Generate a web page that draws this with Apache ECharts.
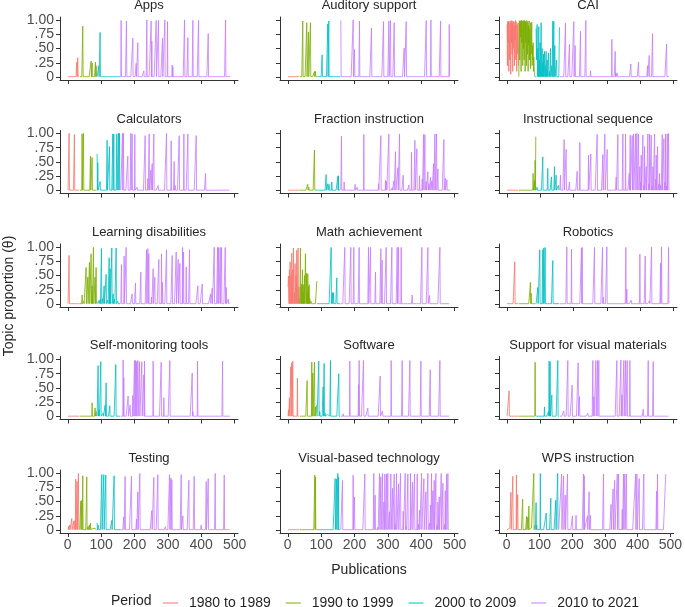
<!DOCTYPE html>
<html><head><meta charset="utf-8">
<script src="https://cdn.jsdelivr.net/npm/echarts@6/dist/echarts.min.js"></script>
<style>html,body{margin:0;padding:0;background:#fff}#c{width:685px;height:607px}</style>
</head><body><div id="c"></div>
<script>
const panelTitles = ['Apps','Auditory support','CAI','Calculators','Fraction instruction','Instructional sequence','Learning disabilities','Math achievement','Robotics','Self-monitoring tools','Software','Support for visual materials','Testing','Visual-based technology','WPS instruction'];
const periods = ['1980 to 1989','1990 to 1999','2000 to 2009','2010 to 2021'];
const periodStart = [1,36,88,159];
const periodEnd = [35,87,158,486];
const xTicks = [0,100,200,300,400,500];
const yTicks = [0,0.25,0.5,0.75,1];
const yTickLabels = ['0','.25','.50','.75','1.00'];
const baseline = 0.008;

// spikes: [publication index, topic proportion]; unlisted publications sit at the baseline
const apps = [[27,0.26],[30,0.34],[45,0.89],[70,0.28],[73,0.25],[83,0.26],[85,0.2],[93,0.2],[97,0.78],[160,0.99],[176,0.98],[195,0.68],[205,0.24],[210,0.6],[228,0.11],[237,1.0],[250,0.98],[252,0.63],[265,0.99],[272,0.99],[284,0.68],[291,1.0],[299,0.97],[313,0.21],[315,0.18],[350,1.0],[360,0.69],[375,0.99],[392,0.99],[421,0.76],[473,1.0]];
const auditory = [[33,0.02],[45,0.98],[57,0.95],[62,0.79],[68,0.95],[80,0.1],[83,0.1],[103,0.39],[120,0.93],[123,0.98],[159,0.99],[171,0.04],[196,1.0],[200,0.48],[215,0.98],[251,0.86],[287,0.97],[303,0.98],[308,0.99],[319,0.95],[349,0.51],[355,0.97],[415,0.99],[429,1.0],[458,0.98],[484,0.92]];
const cai = [[1,0.92],[2,0.2],[3,0.97],[4,0.6],[5,0.98],[6,0.1],[7,0.95],[8,0.7],[9,0.3],[10,0.98],[11,0.85],[12,0.05],[13,0.97],[14,0.6],[15,0.99],[16,0.4],[17,0.95],[18,0.1],[19,0.98],[20,0.75],[21,0.5],[22,0.96],[23,0.2],[24,0.9],[25,0.65],[26,0.99],[27,0.3],[28,0.97],[29,0.55],[30,0.1],[31,0.92],[32,0.7],[33,0.4],[34,0.95],[35,0.2],
[37,0.4],[38,0.98],[39,0.3],[40,0.99],[41,0.7],[42,0.97],[43,0.1],[44,0.99],[45,0.6],[46,0.98],[47,0.85],[48,0.2],[49,0.99],[50,0.5],[51,0.97],[52,0.3],[53,0.99],[54,0.75],[55,0.1],[56,0.98],[57,0.6],[58,0.95],[59,0.2],[60,0.99],[61,0.8],[62,0.4],[63,0.97],[64,0.1],[65,0.9],[66,0.55],[67,0.98],[68,0.3],[69,0.85],[70,0.6],[71,0.15],[72,0.95],[73,0.4],[74,0.7],[75,0.96],[76,0.2],[77,0.55],[78,0.3],[79,0.6],[80,0.1],[81,0.35],[82,0.2],[83,0.05],
[88,0.85],[89,0.3],[90,0.7],[91,0.92],[93,0.5],[94,0.2],[96,0.88],[98,0.3],[100,0.6],[102,0.35],[103,0.95],[105,0.15],[106,0.5],[108,0.25],[110,0.4],[113,0.45],[115,0.2],[118,0.45],[121,0.3],[125,0.42],[128,0.1],[131,0.5],[135,0.2],[138,0.98],[141,0.97],[144,0.55],[149,0.3],[158,0.87],
[176,0.94],[188,0.57],[201,0.97],[205,0.55],[221,0.8],[237,0.99],[251,0.11],[271,0.02],[315,0.66],[325,0.45],[327,0.08],[331,0.07],[372,0.23],[395,0.26],[422,0.2],[427,0.38],[437,0.76],[479,0.58]];
const calculators = [[4,1.0],[20,0.98],[43,0.99],[47,1.0],[68,0.6],[73,0.58],[88,0.64],[90,0.49],[97,0.16],[118,0.88],[125,0.77],[135,0.99],[138,0.99],[147,0.99],[152,1.0],[155,1.0],[164,1.0],[167,1.0],[180,0.6],[189,1.0],[193,0.99],[201,0.98],[208,0.06],[232,0.96],[240,0.21],[244,0.99],[249,0.36],[253,0.47],[258,0.99],[271,0.09],[296,1.0],[310,0.87],[319,0.51],[322,0.09],[334,0.96],[348,0.99],[360,0.99],[385,0.96],[413,0.3],[435,0.03],[447,0.02]];
const fraction = [[2,0.02],[25,0.03],[60,0.11],[63,0.06],[80,0.71],[115,0.28],[120,0.12],[124,0.11],[132,0.15],[150,0.25],[152,0.26],[161,0.95],[169,0.15],[202,0.11],[208,0.06],[228,0.98],[272,0.12],[279,0.96],[293,0.18],[296,0.16],[303,0.99],[313,0.05],[318,0.17],[323,0.68],[330,0.4],[335,0.99],[346,0.27],[363,0.1],[371,0.67],[381,0.88],[387,0.73],[395,0.26],[403,0.2],[407,0.98],[411,0.98],[415,0.16],[420,0.33],[423,0.12],[428,0.23],[432,0.17],[437,0.47],[441,0.99],[446,0.99],[450,0.38],[468,0.89],[472,0.22],[477,0.19],[482,0.03]];
const instructional = [[79,0.3],[83,0.18],[85,0.53],[87,0.94],[91,0.06],[108,0.59],[123,0.39],[134,0.24],[143,0.42],[148,0.27],[155,0.09],[161,0.27],[172,0.89],[178,0.72],[188,0.15],[211,0.34],[219,0.84],[245,0.62],[252,0.64],[271,0.98],[288,0.63],[294,0.99],[301,0.72],[328,0.24],[333,0.98],[348,0.99],[356,0.99],[367,0.3],[370,0.97],[376,0.96],[380,0.99],[386,0.99],[390,1.0],[395,0.99],[399,0.42],[401,0.15],[403,0.62],[408,0.97],[411,0.1],[413,0.77],[418,0.42],[423,0.99],[426,0.12],[428,0.99],[433,0.97],[436,0.08],[438,0.42],[443,0.99],[446,0.2],[448,0.62],[452,0.77],[456,0.12],[458,0.3],[462,0.1],[466,0.98],[471,0.91],[474,0.15],[476,0.99],[479,0.08],[481,0.99],[485,1.0]];
const learning = [[4,0.85],[43,0.16],[48,0.05],[55,0.64],[60,0.47],[65,0.73],[70,0.88],[73,0.32],[77,0.99],[82,0.47],[85,0.64],[93,0.06],[97,0.08],[101,0.97],[105,0.1],[109,0.32],[115,0.52],[120,0.07],[124,0.81],[127,0.62],[132,0.98],[136,0.18],[140,0.09],[145,0.98],[150,0.05],[161,0.69],[169,0.84],[175,0.99],[193,0.18],[203,0.37],[219,0.56],[236,0.95],[240,0.97],[243,0.88],[251,0.12],[256,0.62],[261,0.47],[273,0.78],[281,0.88],[284,0.38],[296,0.95],[313,0.85],[325,0.91],[331,0.78],[336,0.71],[344,0.99],[347,0.91],[355,0.65],[365,0.95],[390,0.32],[403,0.35],[428,0.18],[433,0.28],[439,0.99],[449,0.99],[452,0.99],[457,0.99],[461,0.99],[472,0.99],[475,0.29],[481,0.09]];
const math = [[1,0.3],[2,0.49],[3,0.1],[5,0.6],[7,0.74],[8,0.2],[10,0.5],[12,0.89],[13,0.3],[15,0.6],[17,0.98],[18,0.4],[20,0.2],[22,0.71],[23,0.3],[25,0.5],[27,0.94],[28,0.2],[30,0.6],[31,0.98],[33,0.3],[35,0.1],
[38,0.98],[40,0.3],[42,0.35],[44,0.6],[46,0.2],[48,0.34],[50,0.5],[53,0.88],[54,0.3],[56,0.54],[58,0.2],[60,0.53],[62,0.3],[64,0.34],[66,0.1],[70,0.05],[87,0.4],
[130,0.99],[134,0.2],[137,0.2],[147,0.46],
[171,0.99],[189,0.99],[198,0.99],[214,0.99],[224,0.03],[242,0.99],[248,0.99],[263,0.56],[279,0.97],[283,0.77],[295,0.99],[312,0.99],[328,0.99],[332,0.99],[340,0.99],[373,0.16],[402,0.99],[420,0.99],[425,0.15],[456,0.99]];
const robotics = [[24,0.74],[71,0.38],[73,0.19],[93,0.29],[99,0.95],[108,0.95],[111,0.98],[115,0.99],[138,0.76],[180,1.0],[194,0.96],[224,0.98],[226,0.99],[242,0.02],[263,0.99],[287,0.99],[289,0.12],[300,1.0],[357,0.99],[360,0.26],[373,0.07],[399,0.87],[415,0.84],[428,0.06],[434,1.0],[461,0.71],[464,1.0],[485,0.99]];
const selfMonitoring = [[73,0.24],[82,0.15],[85,0.09],[91,0.89],[94,0.12],[99,0.96],[106,0.06],[112,0.2],[115,0.59],[126,0.19],[144,0.91],[166,0.99],[168,0.68],[181,0.36],[187,0.2],[195,0.37],[200,0.98],[203,0.98],[206,0.96],[210,0.98],[215,0.96],[222,0.96],[228,0.73],[230,0.97],[256,0.97],[280,0.95],[288,0.33],[306,0.98],[373,0.76],[375,0.09],[389,0.97],[464,0.97]];
const software = [[2,0.12],[5,0.33],[9,0.87],[12,0.94],[15,0.97],[29,0.67],[58,0.63],[72,0.95],[75,0.76],[80,0.95],[83,0.17],[87,0.2],[93,0.97],[96,0.09],[106,0.52],[109,0.93],[112,0.06],[119,0.04],[128,0.98],[153,0.75],[166,0.05],[186,0.97],[212,0.56],[214,0.98],[227,0.98],[240,0.15],[277,0.71],[284,0.1],[310,0.98],[343,0.98],[366,0.98],[399,0.97],[427,0.82],[456,0.98]];
const visualMaterials = [[7,0.45],[85,0.95],[113,0.17],[125,0.09],[127,0.97],[130,0.96],[135,0.38],[153,0.98],[171,0.1],[183,0.98],[196,0.55],[214,0.94],[218,0.35],[233,0.03],[243,0.06],[258,0.98],[261,0.35],[267,0.98],[272,0.98],[276,0.98],[330,0.98],[342,0.99],[345,0.38],[351,0.98],[356,0.98],[361,0.98],[369,0.98],[409,0.13],[424,0.98],[439,0.96]];
const testing = [[3,0.07],[6,0.09],[12,0.2],[18,0.16],[22,0.17],[24,0.89],[28,0.85],[32,0.99],[39,0.51],[42,0.52],[45,0.95],[50,0.04],[55,0.04],[57,0.93],[61,0.06],[65,0.09],[68,0.12],[75,0.03],[82,0.03],[88,0.13],[91,0.09],[102,0.97],[108,0.97],[114,0.96],[132,0.17],[139,0.95],[168,0.23],[172,0.94],[191,0.94],[206,0.19],[210,0.67],[216,0.99],[252,0.34],[258,0.92],[270,0.97],[293,0.06],[305,0.97],[309,0.91],[312,0.88],[340,0.97],[345,0.25],[363,0.87],[379,0.94],[400,0.09],[415,0.85],[421,0.9],[442,0.99],[469,0.96]];
const visualBased = [[81,0.96],[83,0.93],[142,0.9],[146,0.89],[150,0.99],[152,0.93],[164,0.87],[196,0.96],[200,0.58],[231,0.98],[252,0.04],[258,0.99],[262,0.61],[270,0.05],[275,0.99],[279,0.93],[284,0.99],[288,0.49],[290,0.08],[291,0.98],[296,0.98],[300,0.99],[305,0.32],[309,0.98],[314,0.73],[319,0.98],[322,0.1],[326,0.99],[332,0.81],[338,0.99],[346,0.33],[352,0.99],[355,0.06],[360,0.98],[368,0.99],[374,0.84],[380,0.98],[388,0.98],[392,0.1],[395,0.35],[401,0.99],[408,0.9],[414,0.67],[420,0.99],[425,0.12],[428,0.44],[431,0.99],[435,0.69],[439,0.87],[444,0.99],[448,0.08],[450,0.49],[454,0.58],[460,0.99],[465,0.82],[470,0.1],[472,0.69],[476,0.98],[480,0.99]];
const wps = [[3,0.03],[10,0.04],[13,0.66],[19,0.94],[25,0.03],[30,0.96],[34,0.62],[49,0.54],[54,0.04],[61,0.24],[65,0.23],[68,0.42],[76,0.04],[83,0.99],[87,0.09],[90,0.48],[92,0.09],[103,0.99],[121,0.3],[135,0.56],[150,0.52],[156,0.99],[168,0.98],[174,0.95],[179,0.61],[186,0.98],[201,0.25],[212,0.26],[235,0.98],[237,0.95],[247,0.25],[252,0.67],[256,0.26],[296,0.98],[319,0.45],[325,0.72],[330,0.87],[338,0.98],[342,0.98],[353,0.36],[357,0.98],[361,0.98],[366,0.98],[394,0.98],[398,0.98],[405,0.9],[419,0.98],[458,0.68],[461,0.98],[475,0.04],[486,0.98]];

const panelData = [apps, auditory, cai, calculators, fraction, instructional, learning, math, robotics, selfMonitoring, software, visualMaterials, testing, visualBased, wps];

const colors = ['#F8766D','#7CAE00','#00BFC4','#C77CFF'];
const colLeft = [60, 280, 499];
const rowTop = [17, 130.5, 244, 356.5, 470];
const W = 178, H = 63;
const FONT = 'Liberation Sans, Arial, sans-serif';

const grids = [], xAxes = [], yAxes = [], series = [], graphics = [];
panelData.forEach((spikes, i) => {
  const r = Math.floor(i / 3), c = i % 3;
  grids.push({left: colLeft[c], top: rowTop[r], width: W, height: H, containLabel: false});
  xAxes.push({
    type: 'value', gridIndex: i, min: -23.25, max: 510.25,
    axisLine: {show: true, onZero: false, lineStyle: {color: '#333', width: 1}},
    axisTick: {show: true, customValues: xTicks, length: 4, lineStyle: {color: '#333'}},
    axisLabel: {show: r === 4, customValues: xTicks, fontSize: 14, color: '#4d4d4d', margin: 5, fontFamily: FONT},
    splitLine: {show: false}
  });
  yAxes.push({
    type: 'value', gridIndex: i, min: -0.05, max: 1.05,
    axisLine: {show: true, onZero: false, lineStyle: {color: '#333', width: 1}},
    axisTick: {show: true, customValues: yTicks, length: 4, lineStyle: {color: '#333'}},
    axisLabel: {show: c === 0, customValues: yTicks, fontSize: 14, color: '#4d4d4d', margin: 6, fontFamily: FONT,
      formatter: v => { const k = yTicks.findIndex(t => Math.abs(t - v) < 1e-9); return k >= 0 ? yTickLabels[k] : ''; }},
    splitLine: {show: false}
  });
  const m = new Map(spikes.map(d => [d[0], d[1]]));
  periods.forEach((p, k) => {
    const data = [];
    for (let x = periodStart[k]; x <= periodEnd[k]; x++) data.push([x, m.has(x) ? m.get(x) : baseline]);
    series.push({
      type: 'line', name: p, xAxisIndex: i, yAxisIndex: i, data,
      symbol: 'none', showSymbol: false, silent: true, z: 2 + k,
      lineStyle: {color: colors[k], width: 1, opacity: 0.8},
      itemStyle: {color: colors[k]}
    });
  });
  graphics.push({type: 'text', x: colLeft[c] + W / 2, y: rowTop[r] - 11.5,
    style: {text: panelTitles[i], fontSize: 13, fill: '#262626', fontFamily: FONT, textAlign: 'center', textVerticalAlign: 'middle'}});
});
graphics.push({type: 'text', x: 9, y: 296, rotation: Math.PI / 2,
  style: {text: 'Topic proportion (θ)', fontSize: 14, fill: '#262626', fontFamily: FONT, textAlign: 'center', textVerticalAlign: 'middle'}});
graphics.push({type: 'text', x: 369, y: 570,
  style: {text: 'Publications', fontSize: 14, fill: '#262626', fontFamily: FONT, textAlign: 'center', textVerticalAlign: 'middle'}});
graphics.push({type: 'text', x: 111, y: 601,
  style: {text: 'Period', fontSize: 14, fill: '#262626', fontFamily: FONT, textAlign: 'left', textVerticalAlign: 'middle'}});

const chart = echarts.init(document.getElementById('c'), null, {renderer: 'canvas'});
chart.setOption({
  animation: false,
  backgroundColor: '#fff',
  grid: grids, xAxis: xAxes, yAxis: yAxes, series,
  legend: {
    data: periods, left: 158, top: 591, icon: 'rect', itemWidth: 15, itemHeight: 2, itemGap: 15,
    itemStyle: {opacity: 0.5},
    textStyle: {fontSize: 14, color: '#262626', fontFamily: FONT, padding: [0, 0, 0, 6]},
    selectedMode: false
  },
  graphic: graphics
});
</script></body></html>
